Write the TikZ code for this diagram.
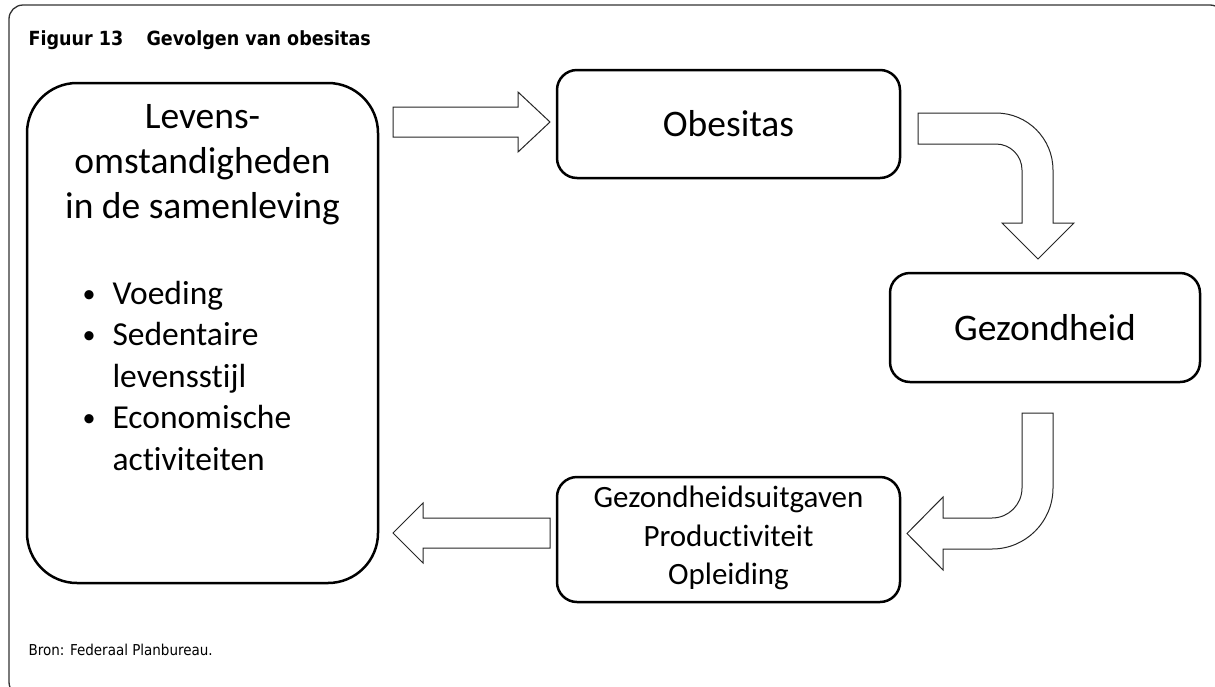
\documentclass[tikz,border=0pt]{standalone}
\usepackage{fontspec}
\setmainfont{Carlito}[Ligatures=NoCommon]
\newfontfamily\figfont{DejaVu Sans Condensed}
\usepackage{tikz}

\begin{document}
\begin{tikzpicture}[x=1pt,y=-1pt,
  box/.style={draw,line width=2.5pt,rounded corners=20pt,inner sep=0pt},
  blockarrow/.style={draw=black!85,line width=1pt,fill=white,line join=miter},
  bigtext/.style={anchor=base,font=\fontsize{37.5}{45}\selectfont},
  itemtext/.style={anchor=base west,font=\fontsize{33.5}{41.5}\selectfont},
  dot/.style={anchor=base,font=\fontsize{26}{30}\selectfont},
  smalltext/.style={anchor=base,font=\fontsize{31}{38.5}\selectfont}]

\useasboundingbox (0,0) rectangle (1215,686);
\clip (0,0) rectangle (1215,686);

% outer frame, right and bottom edge fall just outside the page
\draw[line width=1.3pt,black!80,rounded corners=14pt] (9,5) rectangle (1224,696);

% caption and source
\node [anchor=base west,font=\figfont\bfseries\fontsize{19.5}{22}\selectfont] (fignr) at (25,45) {Figuur 13};
\node [anchor=base west,font=\figfont\bfseries\fontsize{19.5}{22}\selectfont] (figtitle) at (143,45) {Gevolgen van obesitas};
\node [anchor=base west,font=\figfont\fontsize{15}{18}\selectfont] (bron) at (25,655) {Bron: Federaal Planbureau.};

% the four boxes
\node [box,minimum width=351pt,minimum height=500pt,rounded corners=50pt] (leven) at (202.5,333) {};
\node [box,minimum width=343pt,minimum height=108pt] (obes) at (728.5,124) {};
\node [box,minimum width=310pt,minimum height=109pt] (gezond) at (1045,327.5) {};
\node [box,minimum width=343pt,minimum height=125pt] (gevolg) at (728.5,539.5) {};

% left box: heading (top to bottom)
\node [bigtext] (lv1) at (202.5,128) {Levens-};
\node [bigtext] (lv2) at (202.5,173) {omstandigheden};
\node [bigtext] (lv3) at (202.5,218) {in de samenleving};

% left box: bullet list
\node [dot] (d1) at (89,302) {•};
\node [itemtext] (it1) at (109,304) {Voeding};
\node [dot] (d2) at (89,343.5) {•};
\node [itemtext] (it2) at (109,345.5) {Sedentaire};
\node [itemtext] (it2b) at (109,387) {levensstijl};
\node [dot] (d3) at (89,426.5) {•};
\node [itemtext] (it3) at (109,428.5) {Economische};
\node [itemtext] (it3b) at (109,470) {activiteiten};

% other box texts
\node [bigtext] (ob) at (728.5,136) {Obesitas};
\node [bigtext] (gz) at (1045,340) {Gezondheid};
\node [smalltext] (gv1) at (728.5,507) {Gezondheidsuitgaven};
\node [smalltext] (gv2) at (728.5,546) {Productiviteit};
\node [smalltext] (gv3) at (728.5,584) {Opleiding};

% straight block arrows
\draw[blockarrow] (393,107) -- (518,107) -- (518,92) -- (550,122) -- (518,152) -- (518,137) -- (393,137) -- cycle;
\draw[blockarrow] (550,518) -- (423,518) -- (423,503) -- (393,533) -- (423,563) -- (423,548) -- (550,548) -- cycle;

% bent block arrows
\draw[blockarrow] (918,113) -- (996,113) arc (-90:0:57) -- (1053,223) -- (1074,223) -- (1038,259)
  -- (1002,223) -- (1022,223) -- (1022,170) arc (0:-90:26) -- (918,144) -- cycle;
\draw[blockarrow] (1022,413) -- (1022,488) arc (0:90:30) -- (943,518) -- (943,497) -- (907,533.5)
  -- (943,570) -- (943,549) -- (992,549) arc (90:0:61) -- (1053,413) -- cycle;

\end{tikzpicture}
\end{document}
